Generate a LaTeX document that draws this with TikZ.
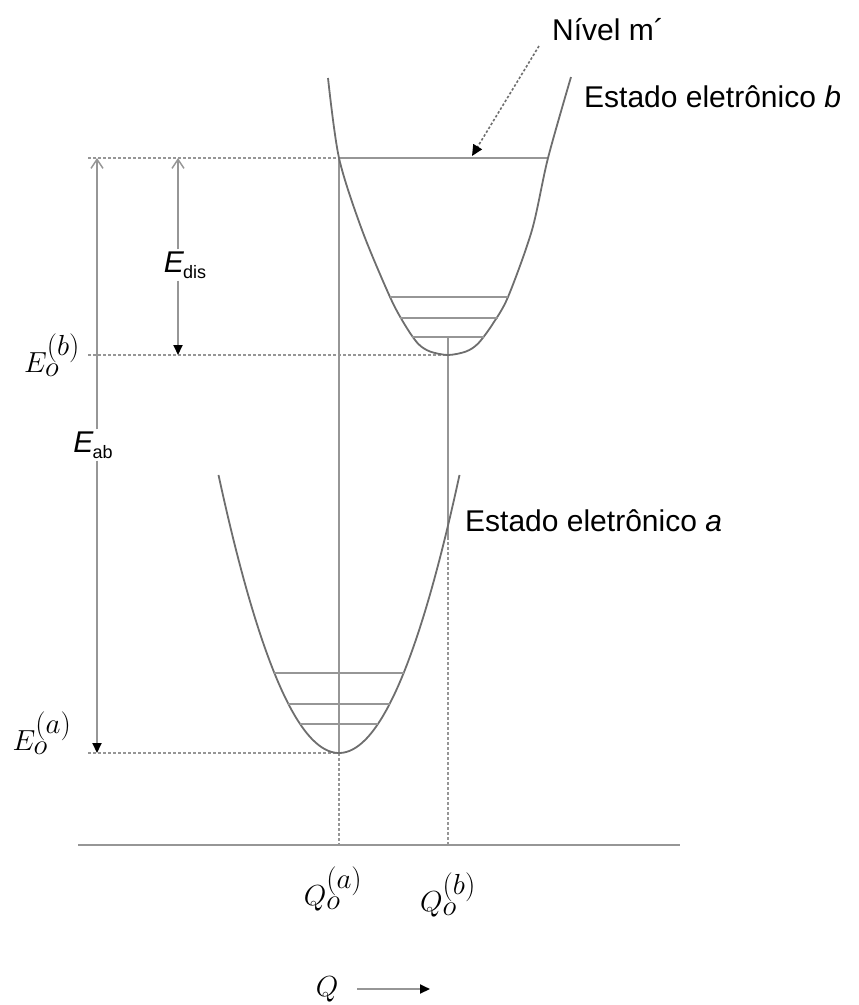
\documentclass[tikz,border=0pt]{standalone}
\usepackage{fix-cm}
\usepackage[no-math]{fontspec}
\setmainfont{Liberation Sans}
\setsansfont{Liberation Sans}
\usetikzlibrary{arrows.meta}
\definecolor{lgray}{RGB}{150,150,150}
\definecolor{dgray}{RGB}{110,110,110}
\tikzset{
  ln/.style={draw=lgray, line width=2pt},
  dsh/.style={draw=lgray, line width=2pt, dash pattern=on 3pt off 2pt},
  lvl/.style={draw=lgray, line width=2.6pt},
  curve/.style={draw=dgray, line width=1.8pt},
  lbl/.style={inner sep=0pt, font=\fontsize{30}{34}\selectfont},
  mlbl/.style={inner sep=0pt, font=\fontsize{29}{33}\selectfont},
  elbl/.style={inner sep=2pt, fill=white, font=\fontsize{30}{34}\selectfont},
  tipf/.style={-{Triangle[color=black,length=10pt,width=9pt]}},
  tipo/.style={-{Straight Barb[length=9pt,width=12pt,line width=1.5pt]}}
}
\begin{document}
\begin{tikzpicture}[x=1pt,y=-1pt]
\useasboundingbox (0,0) rectangle (859,1005);

% coordinates
\coordinate (lvlL) at (339,158);
\coordinate (lvlR) at (548,158);
\coordinate (vb) at (448,355);
\coordinate (vbt) at (448,337);
\coordinate (va) at (339,753);
\coordinate (cross) at (448,537);
\coordinate (axL) at (78,845);
\coordinate (axR) at (680,845);
\coordinate (qa) at (339,845);
\coordinate (qb) at (448,845);
\coordinate (dTop) at (88,158);
\coordinate (dB) at (88,355);
\coordinate (dA) at (88,753);
\coordinate (abTop) at (97,158);
\coordinate (abBot) at (97,753);
\coordinate (disTop) at (178,158);
\coordinate (disBot) at (178,355);
\coordinate (mstart) at (539,46);
\coordinate (mtip) at (472,156);
\coordinate (qarS) at (357,989);
\coordinate (qarE) at (430,989);

% axis
\draw[ln] (axL) -- (axR);

% dashed horizontals
\draw[dsh] (dTop) -- (lvlL);
\draw[dsh] (dB) -- (vb);
\draw[dsh] (dA) -- (va);

% top level m'
\draw[ln] (lvlL) -- (lvlR);

% verticals
\draw[ln] (lvlL) -- (va);
\draw[dsh] (va) -- (qa);
\draw[ln] (vbt) -- (cross);
\draw[dsh] (cross) -- (qb);

% parabola b
\draw[curve] plot[smooth, tension=0.5] coordinates {(328,78) (339,158) (362,230) (390,297) (405,325) (418,343.6) (430,351.5) (448,355) (466,351.5) (478,343.6) (492,325) (508,297) (532,230) (548,158) (571,77)};
% parabola a
\draw[curve] plot[domain=218.5:459.5, samples=80, smooth] (\x, {753 - 0.01915*(\x-339)*(\x-339)});

% vibrational levels b
\draw[lvl] (390,297) -- (508,297);
\draw[lvl] (400,318) -- (498,318);
\draw[lvl] (412,337) -- (484,337);
% vibrational levels a
\draw[lvl] (274,673) -- (404,673);
\draw[lvl] (288,704) -- (390,704);
\draw[lvl] (300,724) -- (378,724);

% labels
\node[lbl, anchor=west] (nivel) at (552,30) {Nível m´};
\node[lbl, anchor=west] (estb) at (584,97) {Estado eletrônico \textit{b}};
\node[lbl, anchor=west] (esta) at (465,521) {Estado eletrônico \textit{a}};

\draw[draw=dgray, line width=1.6pt, dash pattern=on 2.5pt off 2pt, -{Triangle[color=black,length=11pt,width=10pt]}] (mstart) -- (mtip);

% E_ab
\node[elbl] (eab) at (93,445) {\textit{E}\kern-1pt\raisebox{-6pt}{\fontsize{18}{20}\selectfont ab}};
\draw[ln, tipo] (eab.north -| abTop) -- (abTop);
\draw[ln, tipf] (eab.south -| abBot) -- (abBot);

% E_dis
\node[elbl] (edis) at (185,265) {\textit{E}\kern-1pt\raisebox{-6pt}{\fontsize{18}{20}\selectfont dis}};
\draw[ln, tipo] (edis.north -| disTop) -- (disTop);
\draw[ln, tipf] (edis.south -| disBot) -- (disBot);

% E_o labels
\node[mlbl] (eob) at (52,355) {$E_{\textstyle o}^{\textstyle (b)}$};
\node[mlbl] (eoa) at (42,733) {$E_{\textstyle o}^{\textstyle (a)}$};

% Q labels
\node[mlbl] (qoa) at (333,889) {$Q_{\textstyle o}^{\textstyle (a)}$};
\node[mlbl] (qob) at (448,895) {$Q_{\textstyle o}^{\textstyle (b)}$};

% Q arrow
\node[mlbl] (qq) at (327,989) {$Q$};
\draw[ln, tipf] (qarS) -- (qarE);
\end{tikzpicture}
\end{document}
